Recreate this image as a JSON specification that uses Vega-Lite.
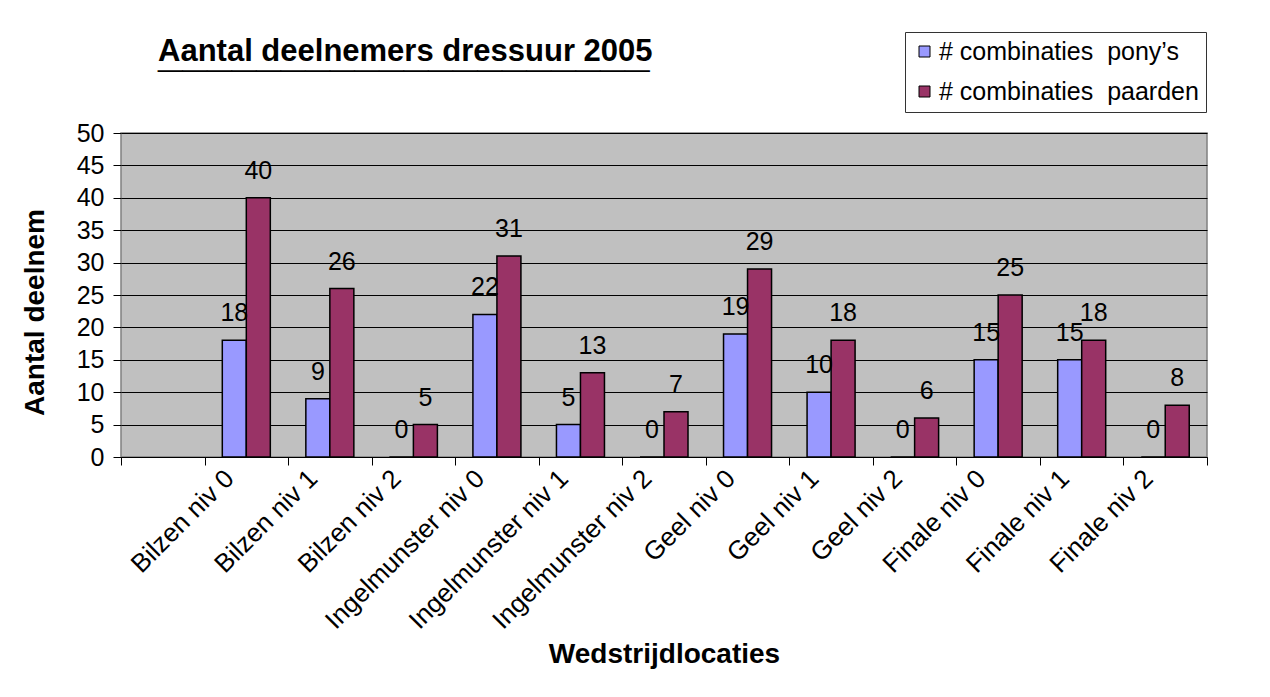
{
  "$schema": "https://vega.github.io/schema/vega-lite/v6.json",
  "autosize": {"type": "none"},
  "padding": {"left": 121, "top": 133, "right": 63, "bottom": 240},
  "width": 1086,
  "height": 324,
  "background": "white",
  "config": {
    "font": "Liberation Sans",
    "view": {"fill": "#C0C0C0", "stroke": "#808080", "strokeWidth": 1.5}
  },
  "title": {
    "text": "Aantal deelnemers dressuur 2005",
    "subtitle": "____________________",
    "font": "Liberation Sans",
    "fontSize": 31,
    "fontWeight": "bold",
    "color": "black",
    "subtitleFont": "Liberation Sans",
    "subtitleFontSize": 44.2,
    "subtitleFontWeight": "bold",
    "subtitleColor": "black",
    "subtitlePadding": -36,
    "anchor": "start",
    "frame": "group",
    "dx": 37,
    "dy": 50,
    "offset": 0
  },
  "data": {
    "values": [
      {"locatie": "Bilzen niv 0", "serie": "pony", "aantal": 18},
      {"locatie": "Bilzen niv 0", "serie": "paard", "aantal": 40},
      {"locatie": "Bilzen niv 1", "serie": "pony", "aantal": 9},
      {"locatie": "Bilzen niv 1", "serie": "paard", "aantal": 26},
      {"locatie": "Bilzen niv 2", "serie": "pony", "aantal": 0},
      {"locatie": "Bilzen niv 2", "serie": "paard", "aantal": 5},
      {"locatie": "Ingelmunster niv 0", "serie": "pony", "aantal": 22},
      {"locatie": "Ingelmunster niv 0", "serie": "paard", "aantal": 31},
      {"locatie": "Ingelmunster niv 1", "serie": "pony", "aantal": 5},
      {"locatie": "Ingelmunster niv 1", "serie": "paard", "aantal": 13},
      {"locatie": "Ingelmunster niv 2", "serie": "pony", "aantal": 0},
      {"locatie": "Ingelmunster niv 2", "serie": "paard", "aantal": 7},
      {"locatie": "Geel niv 0", "serie": "pony", "aantal": 19},
      {"locatie": "Geel niv 0", "serie": "paard", "aantal": 29},
      {"locatie": "Geel niv 1", "serie": "pony", "aantal": 10},
      {"locatie": "Geel niv 1", "serie": "paard", "aantal": 18},
      {"locatie": "Geel niv 2", "serie": "pony", "aantal": 0},
      {"locatie": "Geel niv 2", "serie": "paard", "aantal": 6},
      {"locatie": "Finale niv 0", "serie": "pony", "aantal": 15},
      {"locatie": "Finale niv 0", "serie": "paard", "aantal": 25},
      {"locatie": "Finale niv 1", "serie": "pony", "aantal": 15},
      {"locatie": "Finale niv 1", "serie": "paard", "aantal": 18},
      {"locatie": "Finale niv 2", "serie": "pony", "aantal": 0},
      {"locatie": "Finale niv 2", "serie": "paard", "aantal": 8}
    ]
  },
  "encoding": {
    "x": {
      "field": "locatie",
      "type": "nominal",
      "scale": {
        "domain": [" ", "Bilzen niv 0", "Bilzen niv 1", "Bilzen niv 2", "Ingelmunster niv 0", "Ingelmunster niv 1", "Ingelmunster niv 2", "Geel niv 0", "Geel niv 1", "Geel niv 2", "Finale niv 0", "Finale niv 1", "Finale niv 2"],
        "paddingInner": 0,
        "paddingOuter": 0
      },
      "axis": {
        "title": "Wedstrijdlocaties",
        "titleFontSize": 28,
        "titleFontWeight": "bold",
        "titleColor": "black",
        "titleY": 205,
        "titleBaseline": "alphabetic",
        "labelAngle": -45,
        "labelFontSize": 26,
        "labelColor": "black",
        "labelBaseline": "middle",
        "labelOffset": -17,
        "labelPadding": 9,
        "labelLimit": 400,
        "labelOverlap": false,
        "tickBand": "extent",
        "tickColor": "black",
        "tickSize": 8,
        "domainColor": "black",
        "grid": false
      }
    },
    "xOffset": {
      "field": "serie",
      "type": "nominal",
      "scale": {"domain": ["pony", "paard"], "paddingInner": 0, "paddingOuter": 0.74}
    },
    "y": {
      "field": "aantal",
      "type": "quantitative",
      "scale": {"domain": [0, 50], "nice": false},
      "axis": {
        "title": "Aantal deelnem",
        "titleFontSize": 28,
        "titleFontWeight": "bold",
        "titleColor": "black",
        "titleX": -78,
        "titleY": 179,
        "titleAngle": -90,
        "titleAlign": "center",
        "titleBaseline": "alphabetic",
        "values": [0, 5, 10, 15, 20, 25, 30, 35, 40, 45, 50],
        "labelFontSize": 25,
        "labelColor": "black",
        "labelPadding": 9,
        "tickColor": "black",
        "tickSize": 8,
        "domain": false,
        "grid": true,
        "gridColor": "black",
        "gridWidth": 1
      }
    }
  },
  "layer": [
    {
      "mark": {"type": "bar", "stroke": "black", "strokeWidth": 1.5},
      "encoding": {
        "color": {
          "field": "serie",
          "type": "nominal",
          "scale": {"domain": ["pony", "paard"], "range": ["#9999FF", "#993366"]},
          "legend": {
            "title": null,
            "orient": "none",
            "legendX": 784,
            "legendY": -101,
            "direction": "vertical",
            "labelExpr": "datum.value == 'pony' ? '# combinaties\u00a0 pony’s' : '# combinaties\u00a0 paarden'",
            "fillColor": "white",
            "strokeColor": "#333333",
            "padding": 7,
            "rowPadding": 14,
            "symbolType": "square",
            "symbolSize": 121,
            "symbolStrokeColor": "black",
            "symbolStrokeWidth": 1,
            "labelFontSize": 25,
            "labelColor": "black",
            "labelOffset": 2,
            "labelLimit": 400
          }
        }
      }
    },
    {
      "mark": {"type": "text", "dy": -19, "baseline": "alphabetic", "align": "center", "fontSize": 25, "color": "black"},
      "encoding": {"text": {"field": "aantal", "type": "quantitative"}}
    }
  ]
}
